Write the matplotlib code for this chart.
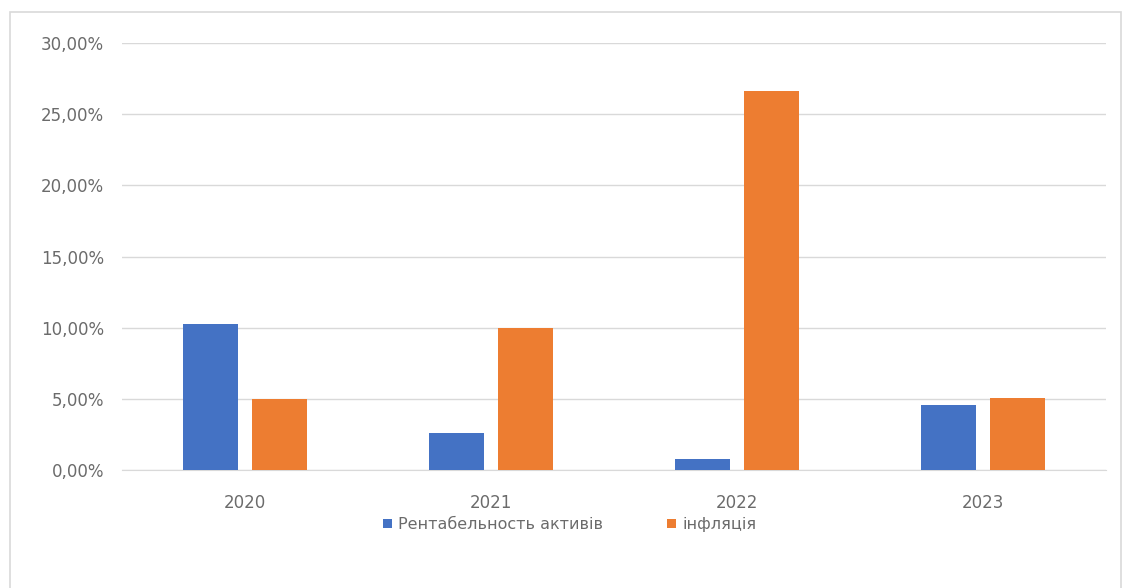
#!/usr/bin/env python3
"""ROA vs inflation bar chart"""

import numpy as np
import matplotlib
matplotlib.use('Agg')
import matplotlib.pyplot as plt
from matplotlib.patches import Rectangle
from matplotlib.ticker import FuncFormatter

years = ['2020', '2021', '2022', '2023']
roa = [10.25, 2.6, 0.77, 4.56]
inflation = [5.0, 9.95, 26.6, 5.05]
series_names = ['Рентабельность активів', 'інфляція']

BLUE = '#4472C4'
ORANGE = '#ED7D31'
GRAY_TEXT = '#6b6b6b'

plt.rcParams['font.family'] = ['DejaVu Sans']

fig = plt.figure(figsize=(11.33, 5.88), dpi=100)
# outer chart frame
fig.patches.append(Rectangle((10 / 1133, -0.05), 1111 / 1133, 1.05 - 12 / 588,
                             transform=fig.transFigure, fill=False,
                             edgecolor='#d9d9d9', linewidth=1.2))

ax = fig.add_axes([122 / 1133, 1 - 470 / 588, 984 / 1133, (470 - 43) / 588])

x = np.arange(len(years))
w = 0.224
off = 0.14
ax.bar(x - off, roa, w, color=BLUE, label=series_names[0], zorder=3)
ax.bar(x + off, inflation, w, color=ORANGE, label=series_names[1], zorder=3)

ax.set_xlim(-0.5, len(years) - 0.5)
ax.set_ylim(0, 30)
ax.set_yticks(np.arange(0, 31, 5))
ax.yaxis.set_major_formatter(FuncFormatter(lambda v, p: f'{v:.2f}%'.replace('.', ',')))
ax.set_xticks(x)
ax.set_xticklabels(years)
ax.grid(axis='y', color='#d9d9d9', linewidth=1, zorder=0)
for s in ['top', 'right', 'left']:
    ax.spines[s].set_visible(False)
ax.spines['bottom'].set_color('#d9d9d9')
ax.tick_params(axis='both', length=0, labelsize=12, colors=GRAY_TEXT)
ax.tick_params(axis='y', pad=13)
ax.tick_params(axis='x', pad=17)

ax.legend(loc='upper center', bbox_to_anchor=(0.455, -0.077), ncol=2, frameon=False,
          fontsize=11.5, labelcolor=GRAY_TEXT, handlelength=0.55, handleheight=0.55,
          handletextpad=0.4, columnspacing=4.0)

fig.savefig('out.png', dpi=100)
